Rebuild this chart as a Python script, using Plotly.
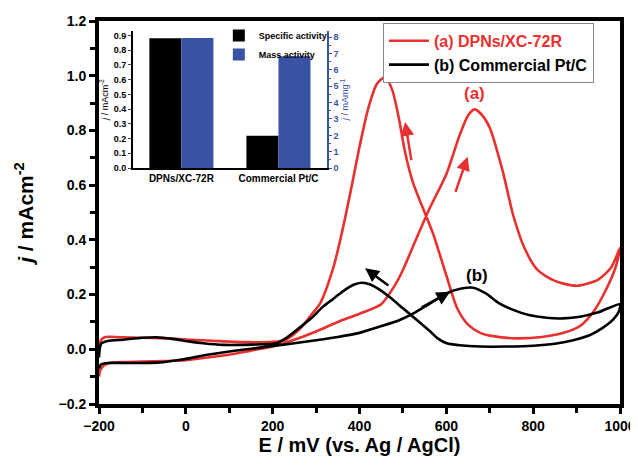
import plotly.graph_objects as go

# ---- CV data (a) DPNs/XC-72R ----
red_E = [-200, -198, -190, -175, -150, -100, -50, 0, 50, 100, 150, 200, 250, 300, 350, 400, 450, 480, 500, 523, 560, 600, 630, 650, 665, 680, 700, 730, 754, 780, 810, 850, 900, 950, 980, 1000,
         990, 970, 940, 908, 870, 820, 760, 700, 678, 650, 625, 600, 570, 545, 523, 505, 490, 475, 459, 440, 420, 400, 380, 360, 340, 310, 286, 260, 230, 200, 150, 100, 50, 0, -50, -100, -150, -185, -195, -200]
red_j = [-0.10, -0.08, -0.06, -0.05, -0.047, -0.045, -0.043, -0.04, -0.03, -0.02, -0.005, 0.01, 0.035, 0.065, 0.10, 0.13, 0.165, 0.23, 0.29, 0.375, 0.51, 0.64, 0.78, 0.855, 0.877, 0.86, 0.81, 0.65, 0.49, 0.37, 0.29, 0.25, 0.232, 0.255, 0.30, 0.37,
         0.30, 0.225, 0.14, 0.085, 0.06, 0.045, 0.04, 0.05, 0.06, 0.09, 0.15, 0.27, 0.42, 0.52, 0.61, 0.72, 0.85, 0.95, 0.995, 0.97, 0.88, 0.74, 0.58, 0.43, 0.30, 0.17, 0.12, 0.07, 0.035, 0.027, 0.026, 0.028, 0.032, 0.036, 0.04, 0.042, 0.044, 0.045, 0.035, 0.0]

# ---- CV data (b) Commercial Pt/C ----
blk_E = [-200, -195, -180, -150, -100, -60, -20, 0, 50, 100, 150, 200, 250, 300, 350, 400, 447, 490, 523, 560, 601, 635, 662, 690, 720, 754, 790, 831, 870, 908, 950, 1000,
         998, 985, 960, 931, 890, 850, 800, 740, 678, 630, 601, 580, 563, 530, 500, 470, 447, 425, 405, 385, 360, 340, 316, 290, 255, 230, 209, 150, 86, 40, 10, -30, -67, -100, -145, -180, -195, -200]
blk_j = [-0.07, -0.055, -0.05, -0.05, -0.05, -0.048, -0.04, -0.035, -0.02, -0.008, 0.002, 0.012, 0.022, 0.033, 0.045, 0.06, 0.083, 0.105, 0.13, 0.165, 0.205, 0.222, 0.225, 0.205, 0.17, 0.144, 0.125, 0.115, 0.113, 0.119, 0.135, 0.165,
         0.14, 0.11, 0.078, 0.052, 0.032, 0.02, 0.013, 0.01, 0.01, 0.015, 0.022, 0.04, 0.065, 0.11, 0.15, 0.19, 0.217, 0.237, 0.243, 0.235, 0.21, 0.185, 0.156, 0.115, 0.07, 0.04, 0.022, 0.017, 0.016, 0.022, 0.028, 0.038, 0.044, 0.042, 0.035, 0.03, 0.02, -0.03]

# ---- inset bar data ----
inset_cats = ["DPNs/XC-72R", "Commercial Pt/C"]
specific_activity = [0.88, 0.22]
mass_activity = [7.95, 6.83]

RED = "#e8312f"
BLUE = "#3953a4"
FONT = "Liberation Sans"

fig = go.Figure()

fig.add_trace(go.Scatter(x=red_E, y=red_j, mode="lines", line=dict(color=RED, width=2.6, shape="spline", smoothing=0.7),
                         name='<span style="color:#e8312f">(a) DPNs/XC-72R</span>', legend="legend"))
fig.add_trace(go.Scatter(x=blk_E, y=blk_j, mode="lines", line=dict(color="black", width=2.6, shape="spline", smoothing=0.7),
                         name="(b) Commercial Pt/C", legend="legend"))

fig.add_trace(go.Bar(x=inset_cats, y=specific_activity, marker=dict(color="black", line=dict(width=0)),
                     name="Specific activity", xaxis="x2", yaxis="y2", offsetgroup="1", legend="legend2"))
fig.add_trace(go.Bar(x=inset_cats, y=mass_activity, marker=dict(color=BLUE, line=dict(width=0)),
                     name="Mass activity", xaxis="x2", yaxis="y3", offsetgroup="2", legend="legend2"))

# arrows
arrows = [
    (505, 0.831, 520, 0.686, RED),
    (649, 0.704, 620, 0.57, RED),
    (609, 0.21, 540, 0.15, "black"),
    (413, 0.296, 470, 0.229, "black"),
]
anns = []
for hx, hy, tx, ty, c in arrows:
    anns.append(dict(x=hx, y=hy, ax=tx, ay=ty, xref="x", yref="y", axref="x", ayref="y",
                     showarrow=True, arrowhead=2, arrowsize=1.1, arrowwidth=2.5, arrowcolor=c, text=""))
anns.append(dict(x=666, y=0.936, xref="x", yref="y", text="(a)", showarrow=False,
                 font=dict(family=FONT, size=17, color=RED, weight="bold")))
anns.append(dict(x=670, y=0.268, xref="x", yref="y", text="(b)", showarrow=False,
                 font=dict(family=FONT, size=17, color="black", weight="bold")))

fig.update_layout(
    width=630, height=461,
    margin=dict(l=91, r=18, t=13, b=65),
    paper_bgcolor="white", plot_bgcolor="white",
    font=dict(family=FONT, color="black"),
    barmode="group", bargap=0.34, bargroupgap=0,
    annotations=anns,
    xaxis=dict(range=[-200, 1000], dtick=200, tick0=-200, showline=True, linewidth=4, linecolor="black", mirror=True,
               ticks="outside", ticklen=6, tickwidth=3, tickcolor="black", showgrid=False, zeroline=False, automargin=False,
               minor=dict(dtick=100, ticks="outside", ticklen=5, tickwidth=3, tickcolor="black", showgrid=False),
               tickfont=dict(family=FONT, size=14, weight="bold"),
               title=dict(text="E / mV (vs. Ag / AgCl)", font=dict(family=FONT, size=20, weight="bold"), standoff=6)),
    yaxis=dict(range=[-0.2, 1.2], dtick=0.2, tick0=0, tickformat=".1f", showline=True, linewidth=4, linecolor="black", mirror=True,
               ticks="outside", ticklen=6, tickwidth=3, tickcolor="black", showgrid=False, zeroline=False, automargin=False,
               minor=dict(dtick=0.1, ticks="outside", ticklen=5, tickwidth=3, tickcolor="black", showgrid=False),
               tickfont=dict(family=FONT, size=14, weight="bold"),
               title=dict(text="<i>j</i> / mAcm<sup>-2</sup>", font=dict(family=FONT, size=21, weight="bold"), standoff=20)),
    xaxis2=dict(domain=[0.065, 0.4376], anchor="y2", showline=True, linewidth=1.5, linecolor="black", ticks="",
                showgrid=False, automargin=False, tickfont=dict(family=FONT, size=10, weight="bold")),
    yaxis2=dict(domain=[0.616, 0.974], anchor="x2", range=[0, 0.93], dtick=0.1, tickformat=".1f", showline=True,
                linewidth=1.5, linecolor="black", ticks="outside", ticklen=3, tickwidth=1.2, showgrid=False, zeroline=False,
                automargin=False, tickfont=dict(family=FONT, size=9, weight="bold"),
                title=dict(text="<i>j</i> / mAcm<sup>-2</sup>", font=dict(family=FONT, size=9), standoff=4)),
    yaxis3=dict(overlaying="y2", anchor="x2", side="right", range=[0, 8.38], dtick=1, showline=True, linewidth=1.5,
                linecolor=BLUE, ticks="outside", ticklen=3, tickwidth=1.2, tickcolor=BLUE, showgrid=False, zeroline=False,
                automargin=False, minor=dict(dtick=0.5, ticks="outside", ticklen=2, tickwidth=1, tickcolor=BLUE),
                tickfont=dict(family=FONT, size=9, weight="bold", color=BLUE),
                title=dict(text="<i>j</i> / mAmg<sup>-1</sup>", font=dict(family=FONT, size=9, color=BLUE), standoff=2)),
    legend=dict(x=0.545, y=0.995, xanchor="left", yanchor="top", bgcolor="white", bordercolor="#888888", borderwidth=1,
                font=dict(family=FONT, size=16, weight="bold"), tracegroupgap=0, itemwidth=40),
    legend2=dict(x=0.23, y=1.0, xanchor="left", yanchor="top", bgcolor="rgba(0,0,0,0)", borderwidth=0,
                 font=dict(family=FONT, size=9, weight="bold"), tracegroupgap=0, itemwidth=30),
)

fig.write_html("out.html")
